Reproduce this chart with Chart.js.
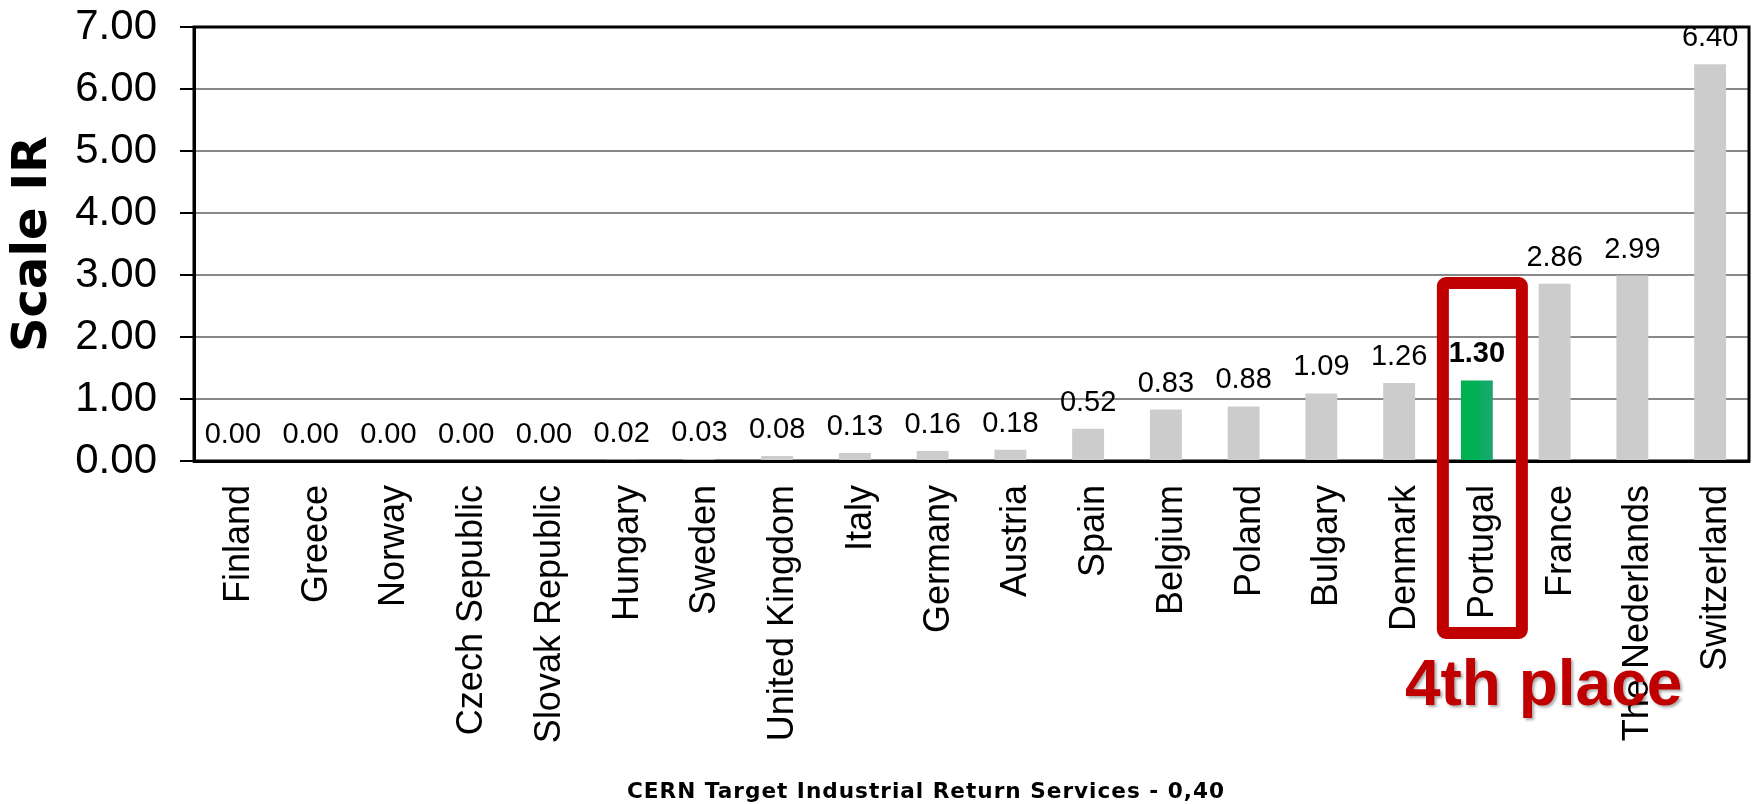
<!DOCTYPE html>
<html>
<head>
<meta charset="utf-8">
<script src="https://cdn.jsdelivr.net/npm/chart.js@4/dist/chart.umd.min.js"></script>
<style>
  html, body { margin: 0; padding: 0; background: #fff; }
  #wrap { width: 1760px; height: 804px; }
</style>
</head>
<body>
<div id="wrap"><canvas id="chart" width="1760" height="804"></canvas></div>
<script>
const countries = ["Finland", "Greece", "Norway", "Czech Sepublic", "Slovak Republic", "Hungary", "Sweden",
  "United Kingdom", "Italy", "Germany", "Austria", "Spain", "Belgium", "Poland", "Bulgary", "Denmark",
  "Portugal", "France", "The Nederlands", "Switzerland"];
const scaleIR = [0.00, 0.00, 0.00, 0.00, 0.00, 0.02, 0.03, 0.08, 0.13, 0.16, 0.18, 0.52, 0.83, 0.88,
  1.09, 1.26, 1.30, 2.86, 2.99, 6.40];
const highlight = "Portugal";
const highlightNote = "4th place";
const footerText = "CERN Target Industrial Return Services - 0,40";
const yTicks = [0, 1, 2, 3, 4, 5, 6, 7];

const FONT = "'Liberation Sans', Arial, sans-serif";
const RED = "#C00000";
const hiIdx = countries.indexOf(highlight);

function barColor(ctx) {
  if (ctx.dataIndex !== hiIdx) return "#CCCCCC";
  const chart = ctx.chart;
  const x = chart.scales.x.getPixelForValue(hiIdx);
  const g = chart.ctx.createLinearGradient(x - 16, 0, x + 16, 0);
  g.addColorStop(0, "#00B050");
  g.addColorStop(0.5, "#03AF55");
  g.addColorStop(1, "#1EA672");
  return g;
}

// frame around the plot area
const framePlugin = {
  id: "frame",
  beforeDatasetsDraw(chart) {
    const { ctx, chartArea: a } = chart;
    ctx.save();
    ctx.strokeStyle = "#000";
    ctx.lineWidth = 3;
    ctx.strokeRect(a.left, a.top, a.right - a.left, a.bottom - a.top);
    ctx.restore();
  }
};

// value labels above bars
const valueLabels = {
  id: "valueLabels",
  afterDatasetsDraw(chart) {
    const { ctx } = chart;
    const meta = chart.getDatasetMeta(0);
    ctx.save();
    ctx.fillStyle = "#000";
    ctx.textAlign = "center";
    ctx.textBaseline = "alphabetic";
    meta.data.forEach((bar, i) => {
      ctx.font = (i === hiIdx ? "bold " : "") + "29px " + FONT;
      ctx.fillText(scaleIR[i].toFixed(2), bar.x, bar.y - 18);
    });
    ctx.restore();
  }
};

// red box + note + footer
const notePlugin = {
  id: "note",
  afterDraw(chart) {
    const { ctx, chartArea: a, scales } = chart;
    const x = scales.x.getPixelForValue(hiIdx);
    const top = scales.y.getPixelForValue(2.87);
    const bottom = a.bottom + 172;
    ctx.save();
    ctx.strokeStyle = RED;
    ctx.lineWidth = 12;
    ctx.lineJoin = "round";
    ctx.beginPath();
    ctx.roundRect(x - 34, top, 79, bottom - top, 3);
    ctx.stroke();

    ctx.font = "bold 64px " + FONT;
    ctx.fillStyle = RED;
    ctx.textAlign = "left";
    ctx.textBaseline = "alphabetic";
    ctx.shadowColor = "rgba(0,0,0,0.35)";
    ctx.shadowOffsetX = 2;
    ctx.shadowOffsetY = 2;
    ctx.shadowBlur = 3;
    ctx.fillText(highlightNote, x - 72, a.bottom + 244);
    ctx.restore();

    ctx.save();
    ctx.font = "bold 22px 'DejaVu Sans', sans-serif";
    ctx.letterSpacing = "1px";
    ctx.fillStyle = "#000";
    ctx.textAlign = "left";
    ctx.textBaseline = "alphabetic";
    ctx.fillText(footerText, 627, 798, 598);
    ctx.restore();
  }
};

new Chart(document.getElementById("chart"), {
  type: "bar",
  data: {
    labels: countries,
    datasets: [{
      label: "Scale IR",
      data: scaleIR,
      backgroundColor: barColor,
      barPercentage: 0.41,
      categoryPercentage: 1.0
    }]
  },
  options: {
    responsive: false,
    animation: false,
    layout: { padding: { top: 27, right: 11, left: 0, bottom: 0 } },
    plugins: { legend: { display: false }, tooltip: { enabled: false } },
    scales: {
      x: {
        grid: { display: false, drawTicks: false },
        border: { display: true, color: "#000", width: 3 },
        ticks: {
          color: "#000",
          font: { family: FONT, size: 36 },
          minRotation: 90,
          maxRotation: 90,
          autoSkip: false,
          padding: 24,
          labelOffset: 6
        },
        afterFit(scale) {
          scale.height = 343;
          scale.paddingLeft = 0;
          scale.paddingRight = 0;
        }
      },
      y: {
        min: 0,
        max: 7,
        afterBuildTicks(scale) { scale.ticks = yTicks.map(v => ({ value: v })); },
        grid: { color: "#888", lineWidth: 2, tickColor: "#000", tickLength: 14 },
        border: { display: true, color: "#000", width: 3 },
        ticks: {
          color: "#000",
          font: { family: FONT, size: 42 },
          padding: 23,
          callback: v => Number(v).toFixed(2)
        },
        title: {
          display: true,
          text: "Scale IR",
          color: "#000",
          font: { family: "'DejaVu Sans', sans-serif", size: 48, weight: "bold" },
          padding: { top: 5, bottom: 0 }
        },
        afterFit(scale) {
          scale.width = 194;
          scale.paddingTop = 0;
          scale.paddingBottom = 0;
        }
      }
    }
  },
  plugins: [framePlugin, valueLabels, notePlugin]
});
</script>
</body>
</html>
